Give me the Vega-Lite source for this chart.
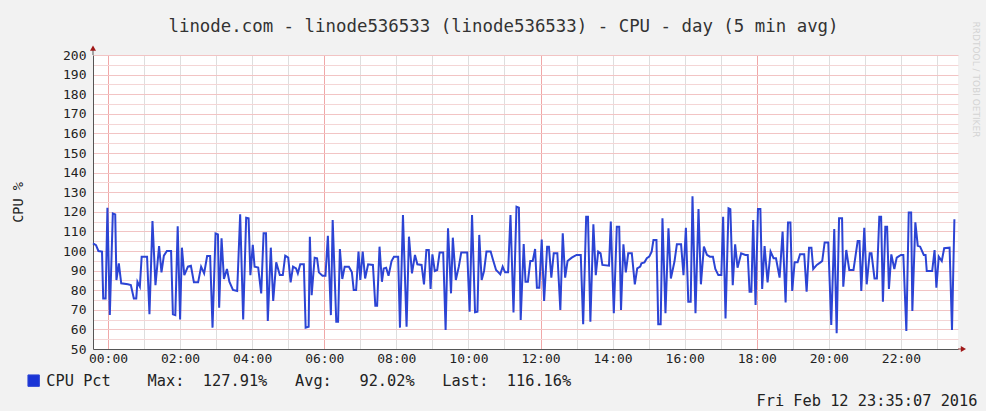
{
  "$schema": "https://vega.github.io/schema/vega-lite/v6.json",
  "width": 865,
  "height": 294,
  "autosize": {"type": "none"},
  "padding": {"left": 93, "top": 55, "right": 28, "bottom": 62},
  "background": "#f2f2f2",
  "config": {"view": {"fill": "white", "stroke": null}, "font": "DejaVu Sans Mono"},
  "title": {"text": "linode.com - linode536533 (linode536533) - CPU - day (5 min avg)", "anchor": "middle", "frame": "group", "dx": -22, "offset": 0, "dy": 32, "baseline": "bottom", "font": "DejaVu Sans Mono", "fontSize": 17.4, "fontWeight": "normal", "color": "#333333"},
  "data": {"values": [
    {"t":-25,"v":103.9},{"t":-20,"v":103},{"t":-16,"v":100},{"t":-10,"v":99.7},{"t":-8,"v":75.8},{"t":-4,"v":75.8},{"t":-1,"v":122.1},{"t":3,"v":67.3},{"t":8,"v":119.2},{"t":12,"v":118.7},{"t":14,"v":85.2},{"t":18,"v":93.7},{"t":22,"v":83.5},{"t":33,"v":83},{"t":38,"v":82.6},{"t":43,"v":75.8},{"t":47,"v":75.8},{"t":49,"v":84.3},{"t":53,"v":81.8},{"t":56,"v":97.1},{"t":65,"v":97.1},{"t":69,"v":67.7},{"t":74,"v":115.3},{"t":79,"v":82.6},{"t":85,"v":102.5},{"t":89,"v":89.1},{"t":93,"v":97.6},{"t":98,"v":100},{"t":105,"v":100},{"t":108,"v":67.7},{"t":112,"v":67.3},{"t":116,"v":112.6},{"t":120,"v":65.1},{"t":123,"v":101.7},{"t":127,"v":87.7},{"t":133,"v":92},{"t":138,"v":92.5},{"t":143,"v":84},{"t":150,"v":84},{"t":155,"v":92},{"t":160,"v":88.6},{"t":165,"v":97.4},{"t":170,"v":97.4},{"t":174,"v":60.9},{"t":179,"v":109},{"t":183,"v":108.5},{"t":185,"v":71.1},{"t":189,"v":106.5},{"t":193,"v":85.7},{"t":198,"v":90.8},{"t":202,"v":84.3},{"t":208,"v":80.1},{"t":215,"v":79.6},{"t":220,"v":118.7},{"t":225,"v":65.1},{"t":230,"v":117},{"t":234,"v":116.7},{"t":237,"v":87.7},{"t":241,"v":103.1},{"t":244,"v":92},{"t":250,"v":91.5},{"t":255,"v":78.4},{"t":259,"v":109},{"t":263,"v":109},{"t":266,"v":64.3},{"t":271,"v":101.7},{"t":275,"v":74.5},{"t":280,"v":94.2},{"t":286,"v":87.7},{"t":291,"v":87.7},{"t":295,"v":97.6},{"t":300,"v":96.6},{"t":304,"v":84},{"t":308,"v":92},{"t":313,"v":91.1},{"t":316,"v":88.6},{"t":320,"v":93.2},{"t":326,"v":93.2},{"t":329,"v":60.9},{"t":334,"v":61.4},{"t":336,"v":107.3},
    {"t":339,"v":77.5},{"t":344,"v":96.6},{"t":348,"v":96.3},{"t":351,"v":89.1},{"t":357,"v":87.4},{"t":362,"v":87.4},{"t":366,"v":107.8},{"t":371,"v":67.3},{"t":374,"v":115.8},{"t":380,"v":63.9},{"t":383,"v":63.9},{"t":386,"v":101},{"t":390,"v":85.7},{"t":394,"v":92},{"t":401,"v":92},{"t":406,"v":89.1},{"t":409,"v":80.1},{"t":413,"v":80.1},{"t":417,"v":99.7},{"t":420,"v":85.2},{"t":424,"v":99.7},{"t":428,"v":86},{"t":433,"v":93.2},{"t":441,"v":92.9},{"t":445,"v":72.1},{"t":448,"v":72.1},{"t":452,"v":102.2},{"t":456,"v":84.3},{"t":459,"v":91.1},{"t":463,"v":91.5},{"t":467,"v":87.4},{"t":472,"v":94.9},{"t":476,"v":97.1},{"t":483,"v":97.1},{"t":486,"v":60.9},{"t":491,"v":118.4},{"t":497,"v":61.4},{"t":501,"v":107.3},{"t":506,"v":88.6},{"t":511,"v":98},{"t":515,"v":93.2},{"t":522,"v":92.9},{"t":526,"v":83},{"t":530,"v":100.5},{"t":534,"v":100.5},{"t":537,"v":80.6},{"t":540,"v":98.3},{"t":544,"v":89.8},{"t":548,"v":90.3},{"t":552,"v":99.2},{"t":558,"v":99.2},{"t":562,"v":59.7},{"t":566,"v":111.6},{"t":571,"v":78.4},{"t":574,"v":106.8},{"t":579,"v":85.2},{"t":584,"v":92},{"t":588,"v":99.2},{"t":598,"v":99.2},{"t":602,"v":69},{"t":606,"v":118.4},{"t":611,"v":68.7},{"t":615,"v":69},{"t":618,"v":108.2},{"t":622,"v":85.2},{"t":626,"v":89.8},{"t":630,"v":99.7},{"t":637,"v":99.7},{"t":641,"v":95.4},{"t":646,"v":90.3},{"t":650,"v":89.1},{"t":653,"v":88.1},{"t":657,"v":92},{"t":661,"v":89.1},{"t":666,"v":89.1},{"t":670,"v":118.4},{"t":675,"v":68.7},{"t":680,"v":122.6},{"t":684,"v":122.1},{"t":687,"v":64.8},{"t":692,"v":103.5},
    {"t":695,"v":84.3},{"t":699,"v":84.3},{"t":703,"v":94.9},{"t":707,"v":94.9},{"t":711,"v":101},{"t":714,"v":81.3},{"t":718,"v":81.3},{"t":722,"v":105.9},{"t":726,"v":74.5},{"t":731,"v":102.2},{"t":734,"v":102.2},{"t":738,"v":86.4},{"t":742,"v":98.8},{"t":748,"v":98.8},{"t":753,"v":69.9},{"t":757,"v":109},{"t":761,"v":86.4},{"t":765,"v":94.9},{"t":772,"v":96.6},{"t":780,"v":98},{"t":787,"v":98},{"t":791,"v":62.6},{"t":796,"v":117.5},{"t":799,"v":117.5},{"t":803,"v":63.9},{"t":808,"v":113.6},{"t":812,"v":87.7},{"t":816,"v":99.7},{"t":820,"v":98.8},{"t":823,"v":92.9},{"t":834,"v":92.5},{"t":837,"v":115},{"t":842,"v":68.2},{"t":847,"v":112.4},{"t":851,"v":112.4},{"t":854,"v":69.9},{"t":858,"v":103.4},{"t":862,"v":89.1},{"t":866,"v":98.8},{"t":872,"v":98.8},{"t":877,"v":83},{"t":881,"v":91.1},{"t":886,"v":92},{"t":888,"v":93.7},{"t":893,"v":94.2},{"t":897,"v":96.3},{"t":901,"v":97.1},{"t":905,"v":99.7},{"t":908,"v":105.6},{"t":913,"v":105.6},{"t":916,"v":62.6},{"t":920,"v":62.6},{"t":923,"v":116.7},{"t":928,"v":68.2},{"t":933,"v":111.6},{"t":937,"v":86},{"t":943,"v":94.6},{"t":947,"v":103.4},{"t":954,"v":103.4},{"t":958,"v":87.7},{"t":962,"v":111.9},{"t":966,"v":74.1},{"t":970,"v":74.1},{"t":973,"v":127.91},{"t":978,"v":68.2},{"t":983,"v":121.4},{"t":987,"v":83},{"t":992,"v":102.2},{"t":997,"v":98},{"t":1002,"v":97.1},{"t":1007,"v":97.1},{"t":1011,"v":90.8},{"t":1016,"v":87.7},{"t":1021,"v":87.7},{"t":1024,"v":117.5},{"t":1028,"v":65.6},{"t":1033,"v":121.8},{"t":1036,"v":121.4},{"t":1040,"v":82.6},{"t":1044,"v":103.4},{"t":1048,"v":91.5},{"t":1054,"v":98.8},
    {"t":1061,"v":98},{"t":1065,"v":98},{"t":1068,"v":79.2},{"t":1071,"v":79.2},{"t":1074,"v":115.8},{"t":1078,"v":72.4},{"t":1082,"v":121.4},{"t":1086,"v":121.4},{"t":1089,"v":80.6},{"t":1093,"v":102.5},{"t":1098,"v":84},{"t":1103,"v":99.7},{"t":1108,"v":96.3},{"t":1112,"v":96.3},{"t":1118,"v":86.4},{"t":1123,"v":109.9},{"t":1128,"v":73.8},{"t":1132,"v":114.6},{"t":1136,"v":114.6},{"t":1139,"v":79.6},{"t":1143,"v":94.2},{"t":1148,"v":94.2},{"t":1152,"v":98.3},{"t":1159,"v":98.3},{"t":1163,"v":79.2},{"t":1167,"v":101.7},{"t":1171,"v":101.7},{"t":1174,"v":90.8},{"t":1180,"v":92.9},{"t":1186,"v":94.2},{"t":1189,"v":94.9},{"t":1193,"v":104.4},{"t":1199,"v":104.4},{"t":1204,"v":62.2},{"t":1209,"v":111.2},{"t":1213,"v":58},{"t":1217,"v":116.7},{"t":1222,"v":116.7},{"t":1224,"v":81.8},{"t":1229,"v":100.5},{"t":1234,"v":90.3},{"t":1241,"v":90.3},{"t":1248,"v":105.1},{"t":1251,"v":105.1},{"t":1254,"v":79.6},{"t":1259,"v":111.9},{"t":1263,"v":83},{"t":1268,"v":98.8},{"t":1271,"v":98.8},{"t":1276,"v":86},{"t":1280,"v":86},{"t":1284,"v":117.5},{"t":1287,"v":117.5},{"t":1290,"v":74.1},{"t":1294,"v":112.4},{"t":1297,"v":112.4},{"t":1300,"v":80.6},{"t":1304,"v":98.3},{"t":1309,"v":90.8},{"t":1313,"v":96.6},{"t":1320,"v":98},{"t":1324,"v":98},{"t":1329,"v":59.2},{"t":1333,"v":119.7},{"t":1337,"v":119.7},{"t":1339,"v":69.4},{"t":1344,"v":114.6},{"t":1348,"v":102.7},{"t":1352,"v":102.2},{"t":1358,"v":98},{"t":1361,"v":98},{"t":1363,"v":89.8},{"t":1372,"v":89.8},{"t":1376,"v":100.5},{"t":1379,"v":81.3},{"t":1383,"v":97.1},{"t":1388,"v":94.9},{"t":1392,"v":101.4},{"t":1401,"v":101.7},{"t":1405,"v":59.7},{"t":1409,"v":116.16}
  ]},
  "layer": [
    {
      "mark": {"type": "line", "opacity": 0},
      "encoding": {
        "x": {"field": "t", "type": "quantitative", "scale": {"domain": [-25, 1415], "nice": false, "zero": false},
              "axis": {"orient": "bottom", "values": [0,60,120,180,240,300,360,420,480,540,600,660,720,780,840,900,960,1020,1080,1140,1200,1260,1320,1380], "grid": true, "gridColor": "#dedede", "gridWidth": 1, "labels": false, "ticks": false, "domain": false, "title": null}},
        "y": {"field": "v", "type": "quantitative", "scale": {"domain": [50, 200], "nice": false, "zero": false},
              "axis": {"orient": "left", "values": [55,65,75,85,95,105,115,125,135,145,155,165,175,185,195], "grid": true, "gridColor": "#f4d6d6", "gridWidth": 1, "labels": false, "ticks": false, "domain": false, "title": null}}
      }
    },
    {
      "mark": {"type": "line", "opacity": 0},
      "encoding": {
        "x": {"field": "t", "type": "quantitative",
              "axis": {"orient": "bottom", "values": [0, 360, 720, 1080], "grid": true, "gridColor": "#f0a8a8", "gridWidth": 1, "labels": false, "ticks": false, "domain": false, "title": null}},
        "y": {"field": "v", "type": "quantitative",
              "axis": {"orient": "left", "values": [60,70,80,90,100,110,120,130,140,150,160,170,180,190,200], "grid": true, "gridColor": "#f2c4c4", "gridWidth": 1, "labels": false, "ticks": false, "domain": false, "title": null}}
      }
    },
    {
      "mark": {"type": "line", "strokeWidth": 2, "interpolate": "linear"},
      "encoding": {
        "x": {"field": "t", "type": "quantitative",
              "axis": {"orient": "bottom", "values": [0,120,240,360,480,600,720,840,960,1080,1200,1320],
                       "labelExpr": "(datum.value < 600 ? '0' : '') + (datum.value / 60) + ':00'",
                       "grid": false, "ticks": false, "domain": true, "domainColor": "#555555", "domainWidth": 1,
                       "labelFont": "DejaVu Sans Mono", "labelFontSize": 13, "labelColor": "#222222", "labelPadding": 3, "labelFlush": false, "labelOverlap": false,
                       "title": "Fri Feb 12 23:35:07 2016", "titleFont": "DejaVu Sans Mono", "titleFontSize": 15.3, "titleFontWeight": "normal", "titleColor": "#222222",
                       "titleX": 884, "titleY": 56, "titleAlign": "right", "titleBaseline": "alphabetic"}},
        "y": {"field": "v", "type": "quantitative",
              "axis": {"orient": "left", "values": [50,60,70,80,90,100,110,120,130,140,150,160,170,180,190,200],
                       "grid": false, "ticks": false, "domain": true, "domainColor": "#555555", "domainWidth": 1,
                       "labelFont": "DejaVu Sans Mono", "labelFontSize": 13, "labelColor": "#222222", "labelPadding": 7, "labelFlush": false, "labelOverlap": false,
                       "title": "CPU %", "titleFont": "DejaVu Sans Mono", "titleFontSize": 13.5, "titleFontWeight": "normal", "titleColor": "#222222",
                       "titleX": -75, "titleY": 147, "titleAngle": 270, "titleAlign": "center", "titleBaseline": "middle"}},
        "color": {"datum": "CPU Pct", "type": "nominal", "scale": {"range": ["#2c44d4"]},
                  "legend": {"orient": "none", "legendX": -67, "legendY": 318, "title": null, "padding": 0,
                             "symbolType": "square", "symbolSize": 130, "symbolStrokeWidth": 1,
                             "labelFont": "DejaVu Sans Mono", "labelFontSize": 15.3, "labelColor": "#222222", "labelOffset": 5, "labelLimit": 1000,
                             "labelExpr": "'CPU\u00a0Pct\u00a0\u00a0\u00a0\u00a0Max:\u00a0\u00a0127.91%\u00a0\u00a0\u00a0Avg:\u00a0\u00a0\u00a092.02%\u00a0\u00a0\u00a0Last:\u00a0\u00a0116.16%'",
                             "encode": {"symbols": {"update": {"fill": {"value": "#1a34d6"}, "stroke": {"value": "#0c1a70"}, "strokeWidth": {"value": 1}}}}}}
      }
    },
    {
      "data": {"values": [{}]},
      "mark": {"type": "rule", "color": "#555555", "strokeWidth": 1},
      "encoding": {
        "x": {"datum": -25, "type": "quantitative", "axis": null},
        "y": {"datum": 200, "type": "quantitative", "axis": null},
        "y2": {"datum": 204}
      }
    },
    {
      "data": {"values": [{}]},
      "mark": {"type": "rule", "color": "#8a3030", "strokeWidth": 1},
      "encoding": {
        "x": {"datum": 1415, "type": "quantitative", "axis": null},
        "x2": {"datum": 1424},
        "y": {"datum": 50, "type": "quantitative", "axis": null}
      }
    },
    {
      "data": {"values": [{}]},
      "mark": {"type": "point", "shape": "triangle-up", "filled": true, "color": "#a01818", "size": 36, "opacity": 1},
      "encoding": {
        "x": {"datum": -25, "type": "quantitative", "axis": null},
        "y": {"datum": 203.5, "type": "quantitative",
              "axis": {"orient": "right", "labels": false, "ticks": false, "domain": false, "grid": false,
                       "title": "RRDTOOL / TOBI OETIKER", "titleFont": "DejaVu Sans", "titleFontSize": 9, "titleFontWeight": "normal", "titleColor": "#d4d4d4",
                       "titleX": 17, "titleY": 24, "titleAngle": 90, "titleAlign": "center", "titleBaseline": "middle"}}
      }
    },
    {
      "data": {"values": [{}]},
      "mark": {"type": "point", "shape": "triangle-right", "filled": true, "color": "#a01818", "size": 36, "opacity": 1},
      "encoding": {
        "x": {"datum": 1424, "type": "quantitative", "axis": null},
        "y": {"datum": 50, "type": "quantitative", "axis": null}
      }
    }
  ],
  "resolve": {"axis": {"x": "independent", "y": "independent"}}
}
